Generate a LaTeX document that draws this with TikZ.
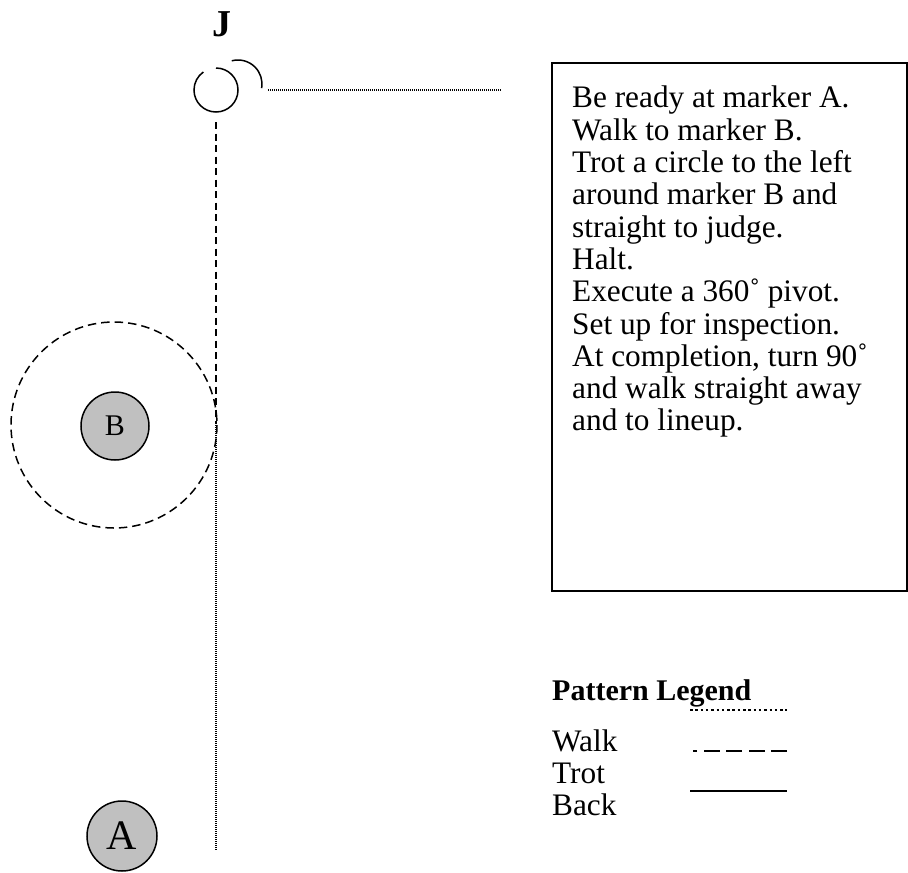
\documentclass[tikz,border=0pt]{standalone}
\usepackage{fontspec}
\setmainfont{Liberation Serif}
\definecolor{markgray}{RGB}{192,192,192}
\begin{document}
\begin{tikzpicture}[x=1pt,y=-1pt,
  pathline/.style={line width=1.5pt},
  walkline/.style={line width=1.6pt, dash pattern=on 1pt off 1pt},
  trotline/.style={line width=1.5pt, dash pattern=on 7pt off 4.5pt},
  circtrot/.style={line width=1.5pt, dash pattern=on 8.5pt off 5pt},
  backline/.style={line width=1.8pt},
  legwalk/.style={line width=2pt, dash pattern=on 2.5pt off 2.8pt},
  legtrot/.style={line width=1.8pt, dash pattern=on 16pt off 6.5pt},
  marker/.style={circle, draw, line width=1.5pt, fill=markgray, inner sep=0pt},
  bodytext/.style={font=\fontsize{31.3}{32.3}\selectfont, inner sep=0pt}
]
\useasboundingbox (0,0) rectangle (908,873);

% judge
\node[font=\bfseries\fontsize{38}{40}\selectfont, inner sep=0pt, anchor=base] (J) at (222,36) {J};

% pivot circles
\coordinate (P) at (216,90);
\coordinate (Q) at (238,84);
\draw[pathline] ([shift={(-90:22)}]P) arc[start angle=-90, end angle=235, radius=22];
\draw[pathline] ([shift={(-105:24)}]Q) arc[start angle=-105, end angle=10, radius=24];

% walk line to the instructions
\coordinate (w1) at (268,90);
\coordinate (w2) at (502,90);
\draw[walkline] (w1) -- (w2);

% markers
\node[marker, minimum size=68pt, font=\fontsize{30}{32}\selectfont] (B) at (115,426) {B};
\node[marker, minimum size=70pt, font=\fontsize{42}{46}\selectfont] (A) at (122,836) {A};

% trot circle around B
\draw[circtrot] (114,425) circle[radius=103];

% centre line
\coordinate (t1) at (216,122);
\coordinate (t2) at (216,423);
\coordinate (t3) at (216,851);
\draw[trotline] (t1) -- (t2);
\draw[walkline] (t2) -- (t3);

% instructions box
\draw[line width=1.3pt] (552,63) rectangle (907,591);
\node[bodytext, anchor=north west, align=left] (inst) at (572,86) {Be ready at marker A.\\
Walk to marker B.\\
Trot a circle to the left\\
around marker B and\\
straight to judge.\\
Halt.\\
Execute a 360˚ pivot.\\
Set up for inspection.\\
At completion, turn 90˚\\
and walk straight away\\
and to lineup.};

% legend
\node[bodytext, font=\bfseries\fontsize{30}{32}\selectfont, anchor=base west] (leg) at (552,700) {Pattern Legend};
\node[bodytext, anchor=base west] (lw) at (552,751) {Walk};
\node[bodytext, anchor=base west] (lt) at (552,783) {Trot};
\node[bodytext, anchor=base west] (lb) at (552,815) {Back};
\coordinate (lw1) at (690,710); \coordinate (lw2) at (787,710);
\coordinate (lt1) at (693,751); \coordinate (lt2) at (787,751);
\coordinate (lb1) at (690,791); \coordinate (lb2) at (787,791);
\draw[legwalk] (lw1) -- (lw2);
\draw[legtrot] (lt2) -- (lt1);
\draw[backline] (lb1) -- (lb2);
\end{tikzpicture}
\end{document}
